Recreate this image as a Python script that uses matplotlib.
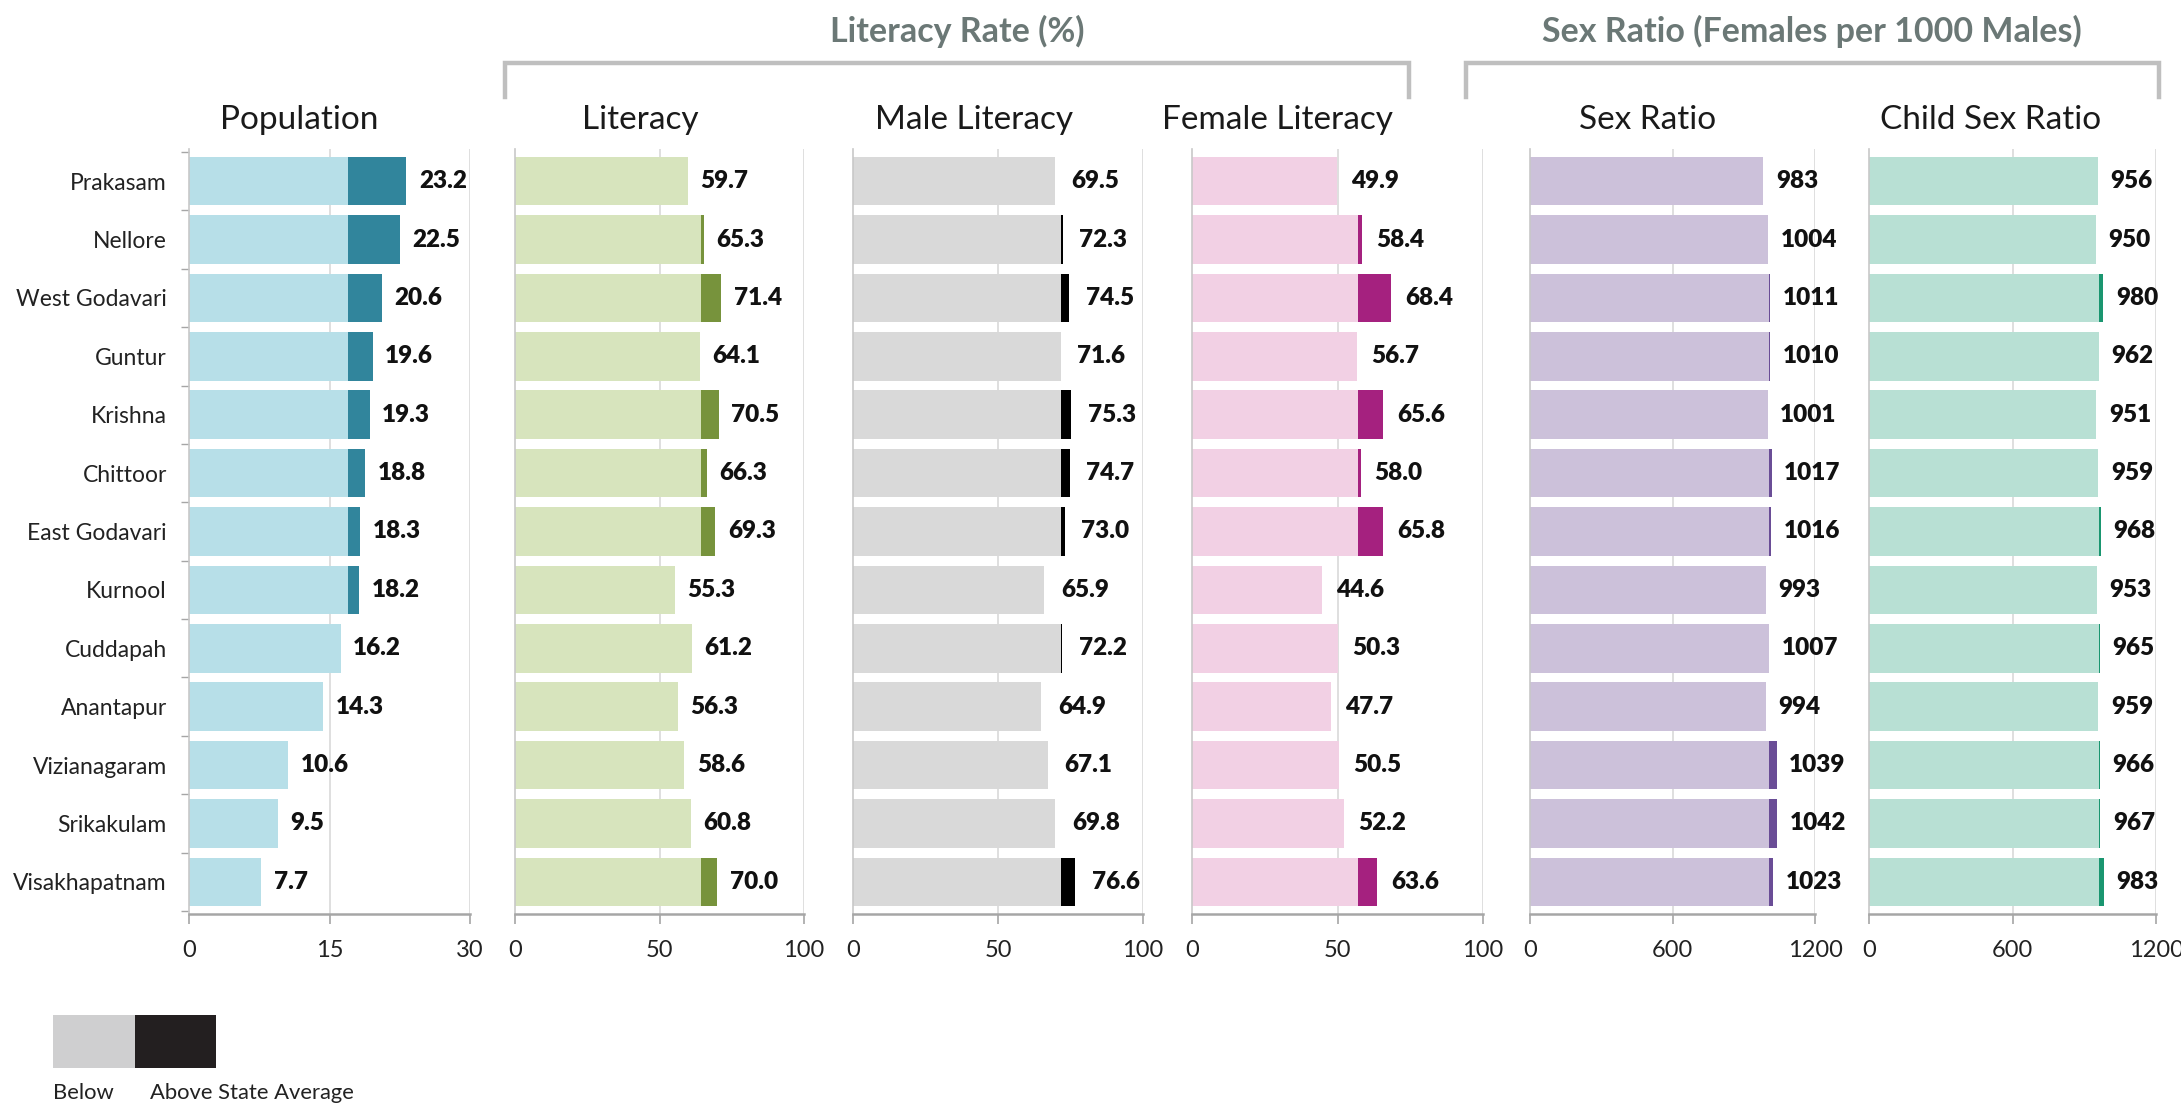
import matplotlib
matplotlib.use("Agg")
import matplotlib.pyplot as plt
from matplotlib.patches import Rectangle
from matplotlib.lines import Line2D

plt.rcParams['font.family'] = ['Lato', 'DejaVu Sans']

districts = ["Prakasam", "Nellore", "West Godavari", "Guntur", "Krishna", "Chittoor",
             "East Godavari", "Kurnool", "Cuddapah", "Anantapur", "Vizianagaram",
             "Srikakulam", "Visakhapatnam"]
population = [23.2, 22.5, 20.6, 19.6, 19.3, 18.8, 18.3, 18.2, 16.2, 14.3, 10.6, 9.5, 7.7]
literacy = [59.7, 65.3, 71.4, 64.1, 70.5, 66.3, 69.3, 55.3, 61.2, 56.3, 58.6, 60.8, 70.0]
male_literacy = [69.5, 72.3, 74.5, 71.6, 75.3, 74.7, 73.0, 65.9, 72.2, 64.9, 67.1, 69.8, 76.6]
female_literacy = [49.9, 58.4, 68.4, 56.7, 65.6, 58.0, 65.8, 44.6, 50.3, 47.7, 50.5, 52.2, 63.6]
sex_ratio = [983, 1004, 1011, 1010, 1001, 1017, 1016, 993, 1007, 994, 1039, 1042, 1023]
child_sex_ratio = [956, 950, 980, 962, 951, 959, 968, 953, 965, 959, 966, 967, 983]

state_avg = {"Population": 17.0, "Literacy": 64.4, "Male Literacy": 71.8,
             "Female Literacy": 57.0, "Sex Ratio": 1006, "Child Sex Ratio": 963}
panel_titles = ["Population", "Literacy", "Male Literacy", "Female Literacy",
                "Sex Ratio", "Child Sex Ratio"]
panel_values = [population, literacy, male_literacy, female_literacy, sex_ratio, child_sex_ratio]
panel_ticks = [[0, 15, 30], [0, 50, 100], [0, 50, 100], [0, 50, 100], [0, 600, 1200], [0, 600, 1200]]
value_fmt = ["{:.1f}", "{:.1f}", "{:.1f}", "{:.1f}", "{:d}", "{:d}"]
light_colors = ["#b7dfe8", "#d7e4bd", "#d9d9d9", "#f2d0e4", "#ccc1da", "#b8e0d4"]
dark_colors = ["#31859c", "#77933c", "#000000", "#a5217f", "#6a4d96", "#1a9670"]
label_offsets = [9, 9, 12, 10, 9, 9]

group_titles = ["Literacy Rate (%)", "Sex Ratio (Females per 1000 Males)"]

W, H = 2181, 1103
fig = plt.figure(figsize=(W / 100, H / 100), dpi=100)

ax_px = [(189, 470), (515, 804), (853, 1143), (1192, 1483), (1530, 1815), (1869, 2156)]
title_px = [299, 640, 974, 1277, 1648, 1991]
top_px, bot_px = 149, 914

n = len(districts)
ypos = list(range(n))

for i, (title, vals) in enumerate(zip(panel_titles, panel_values)):
    x0, x1 = ax_px[i]
    ax = fig.add_axes([x0 / W, 1 - bot_px / H, (x1 - x0) / W, (bot_px - top_px) / H])
    avg = state_avg[title]
    base = [min(v, avg) for v in vals]
    extra = [max(v - avg, 0) for v in vals]
    ax.barh(ypos, base, height=0.83, color=light_colors[i], zorder=2)
    ax.barh(ypos, extra, left=base, height=0.83, color=dark_colors[i], zorder=2)
    xmax = panel_ticks[i][-1]
    ax.set_xlim(0, xmax)
    ax.set_ylim(n - 0.45, -0.55)
    ax.set_xticks(panel_ticks[i])
    ax.set_xticklabels([str(t) for t in panel_ticks[i]], fontsize=17, color="#222222")
    ax.tick_params(axis='x', direction='out', length=7, width=1.2, color="#a6a6a6", pad=12)
    for t in panel_ticks[i][1:]:
        ax.axvline(t, color="#d9d9d9", lw=1.2, zorder=1)
    for s in ["top", "right"]:
        ax.spines[s].set_visible(False)
    ax.spines["bottom"].set_color("#a6a6a6")
    ax.spines["bottom"].set_linewidth(1.8)
    ax.spines["left"].set_color("#c8c8c8")
    ax.spines["left"].set_linewidth(1.2)
    if i == 0:
        ax.set_yticks(ypos)
        ax.set_yticklabels(districts, fontsize=16.5, color="#222222")
        ax.tick_params(axis='y', length=0, pad=16)
        ax.set_yticks([k - 0.5 for k in range(n + 1)], minor=True)
        ax.tick_params(axis='y', which='minor', length=6, width=1, color="#a6a6a6")
    else:
        ax.set_yticks([])
    for k, v in enumerate(vals):
        ax.annotate(value_fmt[i].format(v), xy=(v, k), xytext=(label_offsets[i], 0),
                    textcoords='offset points', va='center', ha='left',
                    fontsize=17.5, fontweight='heavy', color="#111111", zorder=3)
    fig.text(title_px[i] / W, 1 - 120 / H, title, ha='center', va='center',
             fontsize=24, color="#1a1a1a")

# group headers with brackets
bracket_color = "#bfbfbf"
groups = [(group_titles[0], 505, 1409, 957), (group_titles[1], 1466, 2159, 1812)]
for label, bx0, bx1, cx in groups:
    fig.text(cx / W, 1 - 31 / H, label, ha='center', va='center', fontsize=24.5,
             fontweight='bold', color="#6b7876")
    ytop = 1 - 63 / H
    ybot = 1 - 97 / H
    fig.add_artist(Line2D([bx0 / W, bx0 / W, bx1 / W, bx1 / W], [ybot, ytop, ytop, ybot],
                          transform=fig.transFigure, color=bracket_color, lw=3.2,
                          solid_joinstyle='miter'))

# legend
fig.add_artist(Rectangle((53 / W, 1 - 1068 / H), 82 / W, 53 / H, transform=fig.transFigure,
                         facecolor="#cfcfd0", edgecolor='none'))
fig.add_artist(Rectangle((135 / W, 1 - 1068 / H), 81 / W, 53 / H, transform=fig.transFigure,
                         facecolor="#231f20", edgecolor='none'))
fig.text(53 / W, 1 - 1093 / H, "Below", ha='left', va='center', fontsize=15.8, color="#222222")
fig.text(150 / W, 1 - 1093 / H, "Above State Average", ha='left', va='center', fontsize=15.8,
         color="#222222")

fig.savefig("out.png", dpi=100)
